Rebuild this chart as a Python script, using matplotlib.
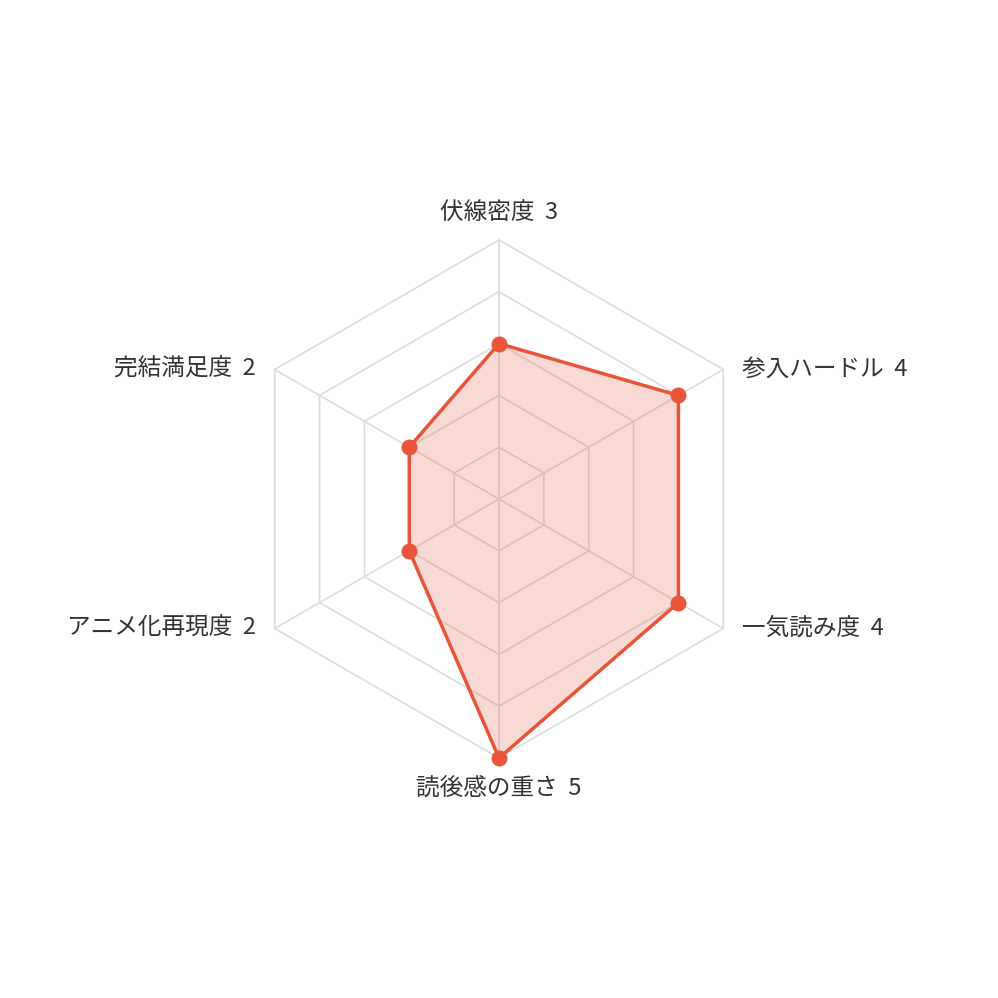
import numpy as np
import matplotlib.pyplot as plt

plt.rcParams['font.family'] = ['Noto Sans CJK JP', 'DejaVu Sans']

labels = ["伏線密度", "参入ハードル", "一気読み度", "読後感の重さ", "アニメ化再現度", "完結満足度"]
values = [3, 4, 4, 5, 2, 2]
max_value = 5
levels = [1, 2, 3, 4, 5]

color = "#E8553A"
grid_color = "#DDDDDD"
text_color = "#333333"

n = len(labels)
# start at top, go clockwise
angles = np.pi / 2 - np.arange(n) * 2 * np.pi / n

fig = plt.figure(figsize=(9.98, 9.98), dpi=100)
ax = fig.add_axes([0, 0, 1, 1])
lim = max_value * 499 / 259
ax.set_xlim(-lim, lim)
ax.set_ylim(-lim, lim)
ax.set_aspect("equal")
ax.axis("off")

# hexagon grid
for lv in levels:
    xs = lv * np.cos(np.append(angles, angles[0]))
    ys = lv * np.sin(np.append(angles, angles[0]))
    ax.plot(xs, ys, color=grid_color, lw=1.2, zorder=1)
for a in angles:
    ax.plot([0, max_value * np.cos(a)], [0, max_value * np.sin(a)], color=grid_color, lw=1.2, zorder=1)

# data polygon
v = np.array(values, dtype=float)
xs = v * np.cos(angles)
ys = v * np.sin(angles)
ax.fill(xs, ys, color=color, alpha=0.22, lw=0, zorder=2)
ax.plot(np.append(xs, xs[0]), np.append(ys, ys[0]), color=color, lw=2.5, zorder=3)
ax.scatter(xs, ys, s=110, color=color, zorder=4)

# labels
px = max_value / 259
for lab, val, a in zip(labels, values, angles):
    cx = max_value * np.cos(a)
    cy = max_value * np.sin(a)
    c = np.cos(a)
    if abs(c) < 1e-6:
        ha = "center"
        tx = cx
        ty = cy + (28 if np.sin(a) > 0 else -31) * px
    elif c > 0:
        ha = "left"
        tx = cx + 19 * px
        ty = cy
    else:
        ha = "right"
        tx = cx - 19 * px
        ty = cy
    ax.text(tx, ty, f"{lab}  {val}", ha=ha, va="center", fontsize=17, color=text_color)

fig.savefig("out.png", dpi=100, facecolor="white")
